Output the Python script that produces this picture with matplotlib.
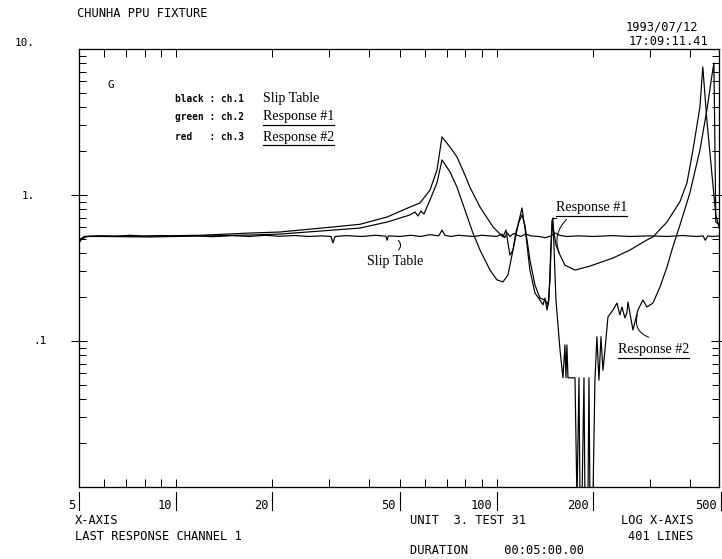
import matplotlib
matplotlib.use('Agg')
import matplotlib.pyplot as plt
from matplotlib.lines import Line2D
from matplotlib.ticker import FixedLocator, LogLocator, NullFormatter

# ---------------- data (frequency Hz, amplitude G) ----------------
ctrl_f = [5.0, 5.1, 5.3, 5.8, 6.5, 7.2, 8.0, 9.0, 10.0, 11.5, 13.0, 15.0, 17.0, 19.0, 21.0,
          23.5, 26.0, 28.5, 30.5, 30.9, 31.4, 34.0, 38.0, 42.0, 45.2, 45.6, 46.0, 50.0, 54.0,
          58.0, 62.0, 66.0, 67.6, 69.0, 72.0, 76.0, 80.0, 85.0, 90.0, 95.0, 100.0, 104.0,
          106.0, 108.0, 110.0, 113.0, 116.0, 119.0, 123.0, 128.0, 135.0, 142.0, 148.0, 152.0,
          157.0, 165.0, 180.0, 200.0, 230.0, 260.0, 300.0, 340.0, 380.0, 420.0, 440.0, 447.0,
          455.0, 470.0, 496.0]
ctrl_v = [0.47, 0.50, 0.52, 0.525, 0.52, 0.53, 0.522, 0.528, 0.52, 0.526, 0.518, 0.527, 0.52,
          0.53, 0.522, 0.528, 0.52, 0.525, 0.52, 0.47, 0.52, 0.527, 0.52, 0.53, 0.522, 0.49,
          0.525, 0.52, 0.53, 0.52, 0.535, 0.525, 0.575, 0.53, 0.52, 0.53, 0.525, 0.52, 0.53,
          0.525, 0.52, 0.54, 0.51, 0.55, 0.52, 0.545, 0.53, 0.52, 0.54, 0.525, 0.52, 0.51,
          0.525, 0.55, 0.53, 0.52, 0.525, 0.52, 0.527, 0.52, 0.525, 0.52, 0.528, 0.52, 0.525,
          0.49, 0.525, 0.52, 0.525]

resp1_f = [5.0, 5.2, 5.8, 8.3, 11.9, 17.1, 21.1, 30.9, 37.5, 45.6, 53.7, 57.7, 62.0, 65.2,
           67.6, 71.6, 75.3, 79.7, 82.6, 88.8, 97.5, 104.7, 107.0, 108.5, 110.1, 112.5, 114.9,
           117.4, 120.0, 122.5, 127.0, 131.7, 136.5, 141.5, 144.6, 146.7, 148.8, 153.1, 157.6,
           163.3, 175.5, 195.4, 230.4, 260.3, 294, 307, 339.5, 372.6, 391.8, 409, 430, 439,
           452, 469, 482, 496]
resp1_v = [0.49, 0.52, 0.524, 0.524, 0.53, 0.549, 0.558, 0.604, 0.63, 0.707, 0.827, 0.882,
           1.08, 1.48, 2.50, 2.13, 1.82, 1.37, 1.13, 0.827, 0.604, 0.516, 0.575, 0.469, 0.388,
           0.42, 0.558, 0.653, 0.73, 0.623, 0.359, 0.242, 0.197, 0.191, 0.177, 0.262, 0.674,
           0.455, 0.388, 0.331, 0.306, 0.326, 0.370, 0.420, 0.492, 0.516, 0.653, 0.90, 1.21,
           2.03, 4.0, 7.53, 3.26, 1.37, 0.73, 0.575]

resp2_f = [5.0, 5.2, 5.8, 8.3, 11.9, 17.1, 21.1, 30.9, 37.5, 45.6, 53.7, 55.7, 56.9, 58.1,
           59.4, 62.0, 65.2, 67.6, 71.6, 75.3, 79.7, 84.4, 88.8, 95.4, 100.3, 104.7, 108.5,
           112.5, 116.6, 120.0, 123.4, 127.0, 131.7, 136.5, 139.5, 141.5, 143.6, 145.6, 147.7,
           149.8, 153.1, 157.6, 161.0, 163.3, 164.5, 165.6, 166.9, 175.5, 178.0, 180.6, 181.9,
           184.5, 187.2, 188.5, 192.6, 194.0, 195.4, 199.6, 202.5, 205.4, 208.4, 211.4, 214.5,
           217.6, 222.3, 230.4, 237.1, 242.2, 245.8, 251.1, 254.7, 256.6, 266, 275.6, 285.7,
           294, 307, 322.8, 339.5, 354, 372.6, 400, 430, 452, 469, 475.5, 482, 496]
resp2_v = [0.49, 0.52, 0.52, 0.516, 0.524, 0.532, 0.54, 0.575, 0.594, 0.653, 0.73, 0.765,
           0.718, 0.777, 0.741, 0.924, 1.21, 1.74, 1.44, 1.13, 0.789, 0.549, 0.42, 0.306,
           0.262, 0.254, 0.283, 0.42, 0.623, 0.815, 0.532, 0.306, 0.213, 0.191, 0.177, 0.197,
           0.163, 0.191, 0.455, 0.696, 0.191, 0.087, 0.056, 0.094, 0.056, 0.094, 0.056, 0.056,
           0.008, 0.056, 0.008, 0.008, 0.056, 0.008, 0.008, 0.056, 0.008, 0.008, 0.054, 0.107,
           0.054, 0.107, 0.063, 0.087, 0.146, 0.163, 0.182, 0.151, 0.171, 0.144, 0.156, 0.185,
           0.119, 0.163, 0.191, 0.171, 0.182, 0.234, 0.321, 0.44, 0.623, 1.03, 2.03, 3.82,
           6.64, 8.02, 0.653, 0.623]

xtick_vals = [5, 10, 20, 50, 100, 200, 500]
xtick_labels = ['5', '10', '20', '50', '100', '200', '500']
ytick_vals = [10, 1, 0.1]
ytick_labels = ['10.', '1.', '.1']

# ---------------- figure ----------------
DPI = 72
fig = plt.figure(figsize=(722 / DPI, 559 / DPI), dpi=DPI)
fig.patch.set_facecolor('white')
ax = fig.add_axes([0.1094, 0.1288, 0.8864, 0.7835])
ax.set_xscale('log')
ax.set_yscale('log')
ax.set_xlim(5, 493)
ax.set_ylim(0.01, 10)

LW = 1.2
ax.plot(ctrl_f, ctrl_v, color='black', lw=LW)
ax.plot(resp1_f, resp1_v, color='black', lw=LW)
ax.plot(resp2_f, resp2_v, color='black', lw=LW)

for s in ax.spines.values():
    s.set_linewidth(1.3)

ax.xaxis.set_major_locator(FixedLocator([10, 100]))
ax.xaxis.set_minor_locator(FixedLocator([6, 7, 8, 9, 20, 30, 40, 50, 60, 70, 80, 90, 200, 300, 400]))
ax.xaxis.set_minor_formatter(NullFormatter())
ax.tick_params(axis='x', which='both', direction='in', top=True, bottom=True,
               length=8, width=1, labelbottom=False)
ax.yaxis.set_major_locator(FixedLocator([0.1, 1]))
ax.yaxis.set_minor_locator(LogLocator(base=10, subs=range(2, 10)))
ax.yaxis.set_minor_formatter(NullFormatter())
ax.tick_params(axis='y', which='minor', direction='in', left=True, right=True, length=7, width=1)
ax.tick_params(axis='y', which='major', direction='inout', left=True, right=True,
               length=16, width=1, labelleft=False)

MONO = 'DejaVu Sans Mono'
SERIF = 'Liberation Serif'

# y labels
for v, lab in zip(ytick_vals, ytick_labels):
    if lab == '.1':
        ax.annotate(lab, xy=(0, v), xycoords=('axes fraction', 'data'), xytext=(-46, 0),
                    textcoords='offset points', ha='left', va='center', fontsize=11, family=MONO)
    else:
        dy = 6 if v == 10 else -1
        ax.annotate(lab, xy=(0, v), xycoords=('axes fraction', 'data'), xytext=(-44, dy),
                    textcoords='offset points', ha='right', va='center', fontsize=11, family=MONO)

# x labels with bars
xtr = ax.get_xaxis_transform()
for f, lab in zip(xtick_vals, xtick_labels):
    ax.annotate(lab, xy=(f, 0), xycoords=xtr, xytext=(-4, -18), textcoords='offset points',
                ha='right', va='center', fontsize=12, family=MONO, annotation_clip=False)
    ax.plot([f, f], [-0.012, -0.052], transform=xtr, color='black', lw=1.1, clip_on=False)

# header texts
fig.text(0.1066, 0.9767, 'CHUNHA PPU FIXTURE', fontsize=12, family=MONO, ha='left', va='center')
fig.text(0.9668, 0.9517, '1993/07/12', fontsize=12, family=MONO, ha='right', va='center')
fig.text(0.9806, 0.9250, '17:09:11.41', fontsize=12, family=MONO, ha='right', va='center')

# footer texts
fig.text(0.1039, 0.068, 'X-AXIS', fontsize=12, family=MONO, ha='left', va='center')
fig.text(0.1039, 0.0394, 'LAST RESPONSE CHANNEL 1', fontsize=12, family=MONO, ha='left', va='center')
fig.text(0.568, 0.068, 'UNIT  3. TEST 31', fontsize=12, family=MONO, ha='left', va='center')
fig.text(0.960, 0.068, 'LOG X-AXIS', fontsize=12, family=MONO, ha='right', va='center')
fig.text(0.960, 0.0411, '401 LINES', fontsize=12, family=MONO, ha='right', va='center')
fig.text(0.568, 0.0161, 'DURATION     00:05:00.00', fontsize=12, family=MONO, ha='left', va='center')

# in-plot legend block
ax.text(0.045, 0.918, 'G', transform=ax.transAxes, fontsize=11, family=MONO, ha='left', va='center')
small = ['black : ch.1', 'green : ch.2', 'red   : ch.3']
names = ['Slip Table', 'Response #1', 'Response #2']
ys = [0.886, 0.845, 0.799]
under = []
for s_, n_, y_ in zip(small, names, ys):
    ax.text(0.15, y_, s_, transform=ax.transAxes, fontsize=9.5, family=MONO,
            fontweight='bold', ha='left', va='center')
    t = ax.text(0.2875, y_, n_, transform=ax.transAxes, fontsize=14, family=SERIF,
                ha='left', va='center')
    if n_ != 'Slip Table':
        under.append(t)

# curve annotations
t1 = ax.text(153, 0.815, 'Response #1', fontsize=14, family=SERIF, ha='left', va='center')
t2 = ax.text(238.8, 0.087, 'Response #2', fontsize=14, family=SERIF, ha='left', va='center')
ax.text(48.3, 0.353, 'Slip Table', fontsize=14, family=SERIF, ha='center', va='center')
under += [t1, t2]

ax.annotate('', xy=(157.6, 0.388), xytext=(166.9, 0.696),
            arrowprops=dict(arrowstyle='-', lw=1, color='black', connectionstyle='arc3,rad=0.35'))
ax.plot([148.8, 153.0], [0.696, 0.696], color='black', lw=1)
ax.annotate('', xy=(275.6, 0.156), xytext=(302, 0.105),
            arrowprops=dict(arrowstyle='-', lw=1, color='black', connectionstyle='arc3,rad=-0.5'))
ax.annotate('', xy=(48.9, 0.50), xytext=(48.9, 0.41),
            arrowprops=dict(arrowstyle='-', lw=1, color='black', connectionstyle='arc3,rad=0.6'))

# underline helper
fig.canvas.draw()
inv = fig.transFigure.inverted()
for t in under:
    bb = t.get_window_extent().transformed(inv)
    fig.add_artist(Line2D([bb.x0, bb.x1], [bb.y0 - 1.5 / 559, bb.y0 - 1.5 / 559],
                          transform=fig.transFigure, color='black', lw=1.2))

fig.savefig('out.png', dpi=DPI, facecolor='white')
